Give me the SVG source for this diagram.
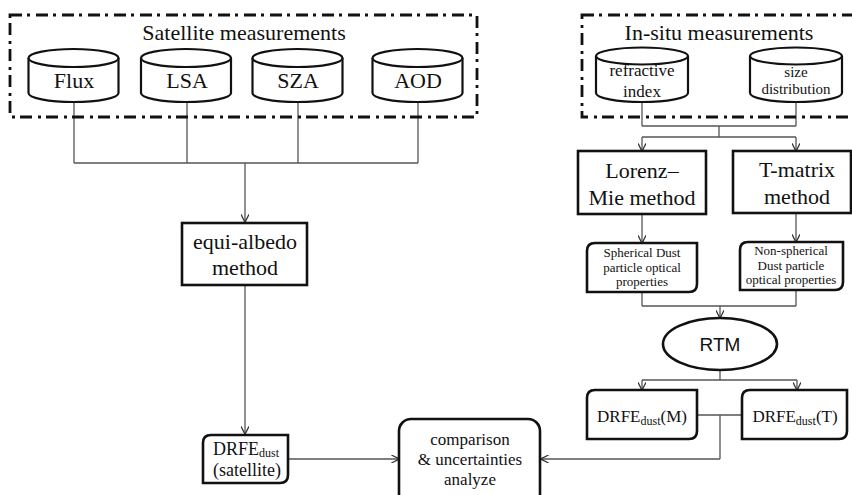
<svg xmlns="http://www.w3.org/2000/svg" width="852" height="495" viewBox="0 0 852 495">
<style>
.t{font-family:"Liberation Serif","Times New Roman",serif;fill:#111;text-anchor:middle}
.ts{font-family:"Liberation Serif","Times New Roman",serif;fill:#111;text-anchor:start}
.box{fill:#fff;stroke:#111;stroke-width:2.6}
.cyl{fill:#fff;stroke:#111;stroke-width:2.2}
.grp{fill:none;stroke:#111;stroke-width:2.8;stroke-dasharray:12 5 3 6}
.con{fill:none;stroke:#555;stroke-width:1.3}
.arr{fill:none;stroke:#555;stroke-width:1.3;marker-end:url(#ah)}
</style>
<defs>
<marker id="ah" viewBox="0 0 10 10" refX="9.5" refY="5" markerWidth="8" markerHeight="8" markerUnits="userSpaceOnUse" orient="auto">
<path d="M0,0 L10,5 L0,10" fill="none" stroke="#333" stroke-width="1.6"/>
</marker>
</defs>
<rect width="852" height="495" fill="#fff"/>

<g id="connectors">
<path class="con" d="M74,102 V163 M187,102 V163 M298,102 V163 M418,102 V163 M74,163 H418"/>
<path class="arr" d="M245,163 V222"/>
<path class="arr" d="M245,285 V434"/>
<path class="arr" d="M288,459 H399"/>
<path class="con" d="M642,102 V126 M796,102 V126 M642,126 H796 M719,126 V137 M642,137 H796"/>
<path class="arr" d="M642,137 V151"/>
<path class="arr" d="M796,137 V151"/>
<path class="arr" d="M642,214 V243"/>
<path class="arr" d="M796,213 V242"/>
<path class="con" d="M642,292 V306 M796,290 V306 M642,306 H796"/>
<path class="arr" d="M720,306 V318"/>
<path class="con" d="M720,370 V380 M642,380 H797"/>
<path class="arr" d="M642,380 V390"/>
<path class="arr" d="M797,380 V390"/>
<path class="con" d="M697,415 H742 M720,415 V459"/>
<path class="arr" d="M720,459 H541"/>
</g>

<g id="satellite-group">
<rect class="grp" x="10" y="15" width="467" height="102"/>
<text class="t" x="244" y="40" font-size="22">Satellite measurements</text>
</g>
<g id="flux">
<path class="cyl" d="M28.5,58 V93 A45,9 0 0 0 118.5,93 V58"/>
<ellipse class="cyl" cx="73.5" cy="58" rx="45" ry="9"/>
<text class="t" x="74" y="88" font-size="22">Flux</text>
</g>
<g id="lsa">
<path class="cyl" d="M141,58 V93 A45,9 0 0 0 231,93 V58"/>
<ellipse class="cyl" cx="186" cy="58" rx="45" ry="9"/>
<text class="t" x="187" y="88" font-size="22">LSA</text>
</g>
<g id="sza">
<path class="cyl" d="M252.5,58 V93 A45,9 0 0 0 342.5,93 V58"/>
<ellipse class="cyl" cx="297.5" cy="58" rx="45" ry="9"/>
<text class="t" x="298" y="88" font-size="22">SZA</text>
</g>
<g id="aod">
<path class="cyl" d="M372.5,58 V93 A45,9 0 0 0 462.5,93 V58"/>
<ellipse class="cyl" cx="417.5" cy="58" rx="45" ry="9"/>
<text class="t" x="418" y="88" font-size="22">AOD</text>
</g>

<g id="equi-albedo">
<rect class="box" x="182" y="223" width="125" height="62"/>
<text class="t" x="245" y="249" font-size="22">equi-albedo</text>
<text class="t" x="245" y="275" font-size="22">method</text>
</g>

<g id="drfe-satellite">
<path class="box" d="M211,435 H288 V475 Q288,483 280,483 H203 V443 Q203,435 211,435 Z"/>
<text class="ts" x="213" y="455" font-size="18">DRFE<tspan font-size="12" dy="2">dust</tspan></text>
<text class="t" x="247" y="476" font-size="18">(satellite)</text>
</g>

<g id="comparison">
<rect class="box" x="399" y="419" width="141" height="90" rx="12"/>
<text class="t" x="470" y="445" font-size="17">comparison</text>
<text class="t" x="470" y="465" font-size="17">&amp; uncertainties</text>
<text class="t" x="470" y="485" font-size="17">analyze</text>
</g>

<g id="insitu-group">
<rect class="grp" x="582" y="15" width="290" height="102"/>
<text class="t" x="719" y="40" font-size="22">In-situ measurements</text>
</g>
<g id="refractive-index">
<path class="cyl" d="M596,56 V93 A46,9 0 0 0 688,93 V56"/>
<ellipse class="cyl" cx="642" cy="56" rx="46" ry="8.5"/>
<text class="t" x="642" y="76" font-size="17">refractive</text>
<text class="t" x="642" y="97" font-size="17">index</text>
</g>
<g id="size-distribution">
<path class="cyl" d="M750,56 V93 A46,9 0 0 0 842,93 V56"/>
<ellipse class="cyl" cx="796" cy="56" rx="46" ry="8.5"/>
<text class="t" x="796" y="77" font-size="15">size</text>
<text class="t" x="796" y="94" font-size="15">distribution</text>
</g>

<g id="lorenz-mie">
<rect class="box" x="578" y="151" width="128" height="63"/>
<text class="t" x="642" y="178" font-size="22">Lorenz–</text>
<text class="t" x="642" y="205" font-size="22">Mie method</text>
</g>
<g id="t-matrix">
<rect class="box" x="733" y="151" width="118" height="62"/>
<text class="t" x="797" y="177" font-size="22">T-matrix</text>
<text class="t" x="797" y="204" font-size="22">method</text>
</g>

<g id="spherical">
<path class="box" d="M595,243 H697 V284 Q697,292 689,292 H587 V251 Q587,243 595,243 Z"/>
<text class="t" x="642" y="257" font-size="13">Spherical Dust</text>
<text class="t" x="642" y="272" font-size="13">particle optical</text>
<text class="t" x="642" y="286" font-size="13">properties</text>
</g>
<g id="non-spherical">
<path class="box" d="M748,242 H843 V282 Q843,290 835,290 H740 V250 Q740,242 748,242 Z"/>
<text class="t" x="791" y="255" font-size="13">Non-spherical</text>
<text class="t" x="791" y="270" font-size="13">Dust particle</text>
<text class="t" x="791" y="284" font-size="13">optical properties</text>
</g>

<g id="rtm">
<ellipse class="box" cx="720" cy="344" rx="57" ry="26"/>
<text x="720" y="351" font-size="19" font-family="'Liberation Sans',Arial,sans-serif" text-anchor="middle" fill="#111">RTM</text>
</g>

<g id="drfe-m">
<path class="box" d="M595,390 H697 V431 Q697,439 689,439 H587 V398 Q587,390 595,390 Z"/>
<text class="t" x="642" y="422" font-size="17">DRFE<tspan font-size="12" dy="3">dust</tspan><tspan dy="-3">(M)</tspan></text>
</g>
<g id="drfe-t">
<path class="box" d="M750,390 H847 V431 Q847,439 839,439 H742 V398 Q742,390 750,390 Z"/>
<text class="t" x="795" y="422" font-size="17">DRFE<tspan font-size="12" dy="3">dust</tspan><tspan dy="-3">(T)</tspan></text>
</g>
</svg>
